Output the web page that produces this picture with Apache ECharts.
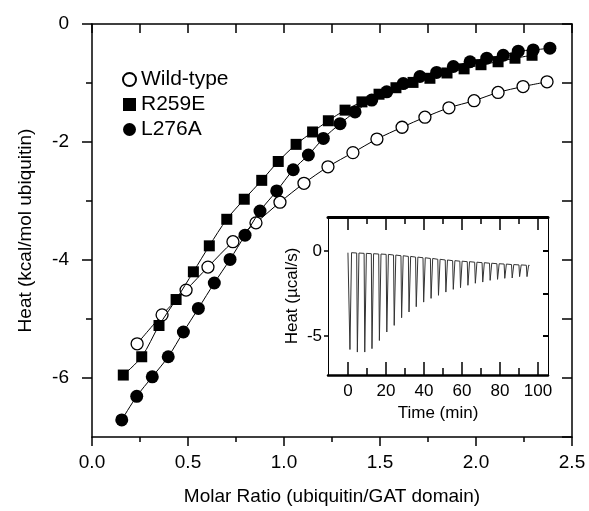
<!DOCTYPE html>
<html><head><meta charset="utf-8">
<script src="https://cdn.jsdelivr.net/npm/echarts@6/dist/echarts.min.js"></script>
<style>html,body{margin:0;padding:0;background:#fff}#c{width:589px;height:511px}</style>
</head><body><div id="c"></div>
<script>
// ---- Main plot data ----
const wtX = [0.235, 0.365, 0.490, 0.604, 0.734, 0.854, 0.979, 1.104, 1.229, 1.359, 1.484, 1.615, 1.734, 1.859, 1.990, 2.115, 2.245, 2.370];
const wtY = [-5.42, -4.93, -4.51, -4.12, -3.69, -3.37, -3.02, -2.70, -2.42, -2.18, -1.95, -1.75, -1.58, -1.42, -1.30, -1.16, -1.06, -0.98];

const r259X = [0.163, 0.259, 0.349, 0.438, 0.528, 0.611, 0.702, 0.793, 0.884, 0.970, 1.063, 1.149, 1.231, 1.318, 1.406, 1.495, 1.583, 1.672, 1.760, 1.849, 1.938, 2.026, 2.115, 2.203, 2.292];
const r259Y = [-5.95, -5.64, -5.11, -4.67, -4.20, -3.76, -3.31, -2.97, -2.65, -2.33, -2.04, -1.83, -1.64, -1.46, -1.32, -1.19, -1.08, -0.99, -0.92, -0.83, -0.76, -0.69, -0.64, -0.58, -0.53];

const l276X = [0.155, 0.233, 0.314, 0.397, 0.476, 0.554, 0.637, 0.719, 0.797, 0.875, 0.962, 1.048, 1.127, 1.205, 1.292, 1.370, 1.457, 1.535, 1.621, 1.708, 1.795, 1.882, 1.969, 2.056, 2.142, 2.220, 2.298, 2.385];
const l276Y = [-6.71, -6.31, -5.98, -5.64, -5.22, -4.82, -4.39, -3.99, -3.58, -3.17, -2.83, -2.47, -2.22, -1.94, -1.69, -1.49, -1.29, -1.15, -1.01, -0.89, -0.82, -0.72, -0.64, -0.58, -0.53, -0.46, -0.44, -0.41];

const seriesNames = ['Wild-type', 'R259E', 'L276A'];
const xTickVals = [0, 0.5, 1.0, 1.5, 2.0, 2.5];
const xTickLabels = ['0.0', '0.5', '1.0', '1.5', '2.0', '2.5'];
const yTickVals = [-6, -4, -2, 0];
const yTickLabels = ['-6', '-4', '-2', '0'];
const yMinorVals = [-5, -3, -1];

// ---- Inset (raw ITC trace) data ----
const injTimes = [0.7, 4.6, 8.5, 12.3, 16.2, 20.1, 24.0, 27.9, 31.8, 35.6, 39.5, 43.4, 47.3, 51.2, 55.1, 58.9, 62.8, 66.7, 70.6, 74.5, 78.4, 82.2, 86.1, 90.0, 93.9];
const injPeaks = [-5.80, -5.95, -5.95, -5.75, -5.27, -4.77, -4.38, -3.93, -3.59, -3.28, -3.01, -2.79, -2.61, -2.42, -2.26, -2.16, -2.02, -1.90, -1.83, -1.73, -1.67, -1.61, -1.59, -1.51, -1.51];
const injBase = [-0.10, -0.12, -0.14, -0.16, -0.18, -0.20, -0.24, -0.28, -0.32, -0.36, -0.40, -0.44, -0.49, -0.53, -0.57, -0.60, -0.63, -0.66, -0.69, -0.72, -0.75, -0.77, -0.80, -0.82, -0.84];
const traceStart = [0, -0.10];
const traceEnd = [95.6, -0.85];
const insetXTickVals = [0, 20, 40, 60, 80, 100];
const insetXMinorVals = [10, 30, 50, 70, 90];
const insetYTickVals = [-5, 0];
const insetYRightVals = [-5, -2.5, 0];

const FONT = "'Liberation Sans', Arial, Helvetica, sans-serif";

const zip = (xs, ys) => xs.map((x, i) => [x, ys[i]]);
const trace = [traceStart];
injTimes.forEach((t, i) => {
  trace.push([t, injBase[i]]);
  trace.push([t + 0.35, injPeaks[i]]);
  trace.push([t + 1.2, injBase[i]]);
});
trace.push(traceEnd);

const blk = (w) => ({ color: '#000', width: w });
const noLabel = { show: false };
const noSplit = { show: false };

const option = {
  animation: false,
  grid: [
    { left: 92, top: 24, width: 480, height: 414 },
    { left: 328, top: 217, width: 220, height: 158 }
  ],
  legend: {
    orient: 'vertical', left: 117, top: 64, itemWidth: 13, itemHeight: 13, itemGap: 4,
    textStyle: { fontSize: 21, fontFamily: FONT, color: '#000' },
    data: [
      { name: seriesNames[0], icon: 'circle' },
      { name: seriesNames[1], icon: 'rect' },
      { name: seriesNames[2], icon: 'circle' }
    ]
  },
  xAxis: [
    { // 0 main bottom
      gridIndex: 0, type: 'value', position: 'bottom', min: 0, max: 2.5, interval: 0.5,
      axisLine: { show: true, onZero: false, lineStyle: blk(1.5) },
      axisTick: { show: true, inside: false, length: 9, lineStyle: blk(1.5) },
      minorTick: { show: true, splitNumber: 2, length: 5, lineStyle: blk(1.5) },
      splitLine: noSplit,
      axisLabel: { show: true, margin: 16, fontSize: 19, fontFamily: FONT, color: '#000',
        formatter: v => { const i = xTickVals.findIndex(t => Math.abs(t - v) < 1e-6); return i >= 0 ? xTickLabels[i] : ''; } },
      name: 'Molar Ratio (ubiquitin/GAT domain)', nameLocation: 'middle', nameGap: 50,
      nameTextStyle: { fontSize: 19, fontFamily: FONT, color: '#000' }
    },
    { // 1 main top
      gridIndex: 0, type: 'value', position: 'top', min: 0, max: 2.5, interval: 0.25,
      axisLine: { show: true, onZero: false, lineStyle: blk(1.5) },
      axisTick: { show: true, inside: true, length: 9, lineStyle: blk(1.5) },
      axisLabel: noLabel, splitLine: noSplit
    },
    { // 2 inset bottom major
      gridIndex: 1, type: 'value', position: 'bottom', min: -10.5, max: 105.3,
      axisLine: { show: true, onZero: false, lineStyle: blk(2.5) },
      axisTick: { show: true, inside: true, length: 13, customValues: insetXTickVals, lineStyle: blk(1.5) },
      axisLabel: { show: true, customValues: insetXTickVals, margin: 8, fontSize: 17, fontFamily: FONT, color: '#000' },
      splitLine: noSplit,
      name: 'Time (min)', nameLocation: 'middle', nameGap: 30,
      nameTextStyle: { fontSize: 17, fontFamily: FONT, color: '#000' }
    },
    { // 3 inset bottom minor
      gridIndex: 1, type: 'value', position: 'bottom', min: -10.5, max: 105.3,
      axisLine: { show: false, onZero: false },
      axisTick: { show: true, inside: true, length: 7, customValues: insetXMinorVals, lineStyle: blk(1.5) },
      axisLabel: noLabel, splitLine: noSplit
    },
    { // 4 inset top major
      gridIndex: 1, type: 'value', position: 'top', min: -10.5, max: 105.3,
      axisLine: { show: true, onZero: false, lineStyle: blk(3) },
      axisTick: { show: true, inside: true, length: 13, customValues: insetXTickVals, lineStyle: blk(1.5) },
      axisLabel: noLabel, splitLine: noSplit
    },
    { // 5 inset top minor
      gridIndex: 1, type: 'value', position: 'top', min: -10.5, max: 105.3,
      axisLine: { show: false, onZero: false },
      axisTick: { show: true, inside: true, length: 7, customValues: insetXMinorVals, lineStyle: blk(1.5) },
      axisLabel: noLabel, splitLine: noSplit
    }
  ],
  yAxis: [
    { // 0 main left major
      gridIndex: 0, type: 'value', position: 'left', min: -7, max: 0,
      axisLine: { show: true, onZero: false, lineStyle: blk(1.5) },
      axisTick: { show: true, inside: false, length: 10, customValues: yTickVals, lineStyle: blk(1.5) },
      axisLabel: { show: true, customValues: yTickVals, margin: 23, fontSize: 19, fontFamily: FONT, color: '#000',
        formatter: v => { const i = yTickVals.indexOf(v); return i >= 0 ? yTickLabels[i] : ''; } },
      splitLine: noSplit,
      name: 'Heat (kcal/mol ubiquitin)', nameLocation: 'middle', nameGap: 57,
      nameTextStyle: { fontSize: 19, fontFamily: FONT, color: '#000' }
    },
    { // 1 main left minor
      gridIndex: 0, type: 'value', position: 'left', min: -7, max: 0,
      axisLine: { show: false, onZero: false },
      axisTick: { show: true, inside: false, length: 6, customValues: yMinorVals, lineStyle: blk(1.5) },
      axisLabel: noLabel, splitLine: noSplit
    },
    { // 2 main right
      gridIndex: 0, type: 'value', position: 'right', min: -7, max: 0, interval: 1,
      axisLine: { show: true, onZero: false, lineStyle: blk(1.5) },
      axisTick: { show: true, inside: true, length: 10, lineStyle: blk(1.5) },
      axisLabel: noLabel, splitLine: noSplit
    },
    { // 3 inset left
      gridIndex: 1, type: 'value', position: 'left', min: -7.3, max: 2,
      axisLine: { show: true, onZero: false, lineStyle: blk(1) },
      axisTick: { show: true, inside: false, length: 4, customValues: insetYTickVals, lineStyle: blk(1.5) },
      axisLabel: { show: true, customValues: insetYTickVals, margin: 6, fontSize: 17, fontFamily: FONT, color: '#000' },
      splitLine: noSplit,
      name: 'Heat (\u00b5cal/s)', nameLocation: 'middle', nameGap: 27,
      nameTextStyle: { fontSize: 17, fontFamily: FONT, color: '#000' }
    },
    { // 4 inset right
      gridIndex: 1, type: 'value', position: 'right', min: -7.3, max: 2,
      axisLine: { show: true, onZero: false, lineStyle: blk(1) },
      axisTick: { show: true, inside: true, length: 5, customValues: insetYRightVals, lineStyle: blk(2) },
      axisLabel: noLabel, splitLine: noSplit
    }
  ],
  series: [
    {
      name: seriesNames[0], type: 'line', xAxisIndex: 0, yAxisIndex: 0, data: zip(wtX, wtY),
      smooth: 0.3, symbol: 'circle', symbolSize: 12, showSymbol: true,
      itemStyle: { color: '#fff', borderColor: '#000', borderWidth: 1.3 },
      lineStyle: { color: '#000', width: 1 }, z: 2
    },
    {
      name: seriesNames[1], type: 'line', xAxisIndex: 0, yAxisIndex: 0, data: zip(r259X, r259Y),
      smooth: 0.3, symbol: 'rect', symbolSize: 11,
      itemStyle: { color: '#000' },
      lineStyle: { color: '#000', width: 1 }, z: 3
    },
    {
      name: seriesNames[2], type: 'line', xAxisIndex: 0, yAxisIndex: 0, data: zip(l276X, l276Y),
      smooth: 0.3, symbol: 'circle', symbolSize: 13,
      itemStyle: { color: '#000' },
      lineStyle: { color: '#000', width: 1 }, z: 4
    },
    {
      name: 'trace', type: 'line', xAxisIndex: 2, yAxisIndex: 3, data: trace,
      showSymbol: false, symbol: 'none', silent: true,
      lineStyle: { color: '#333', width: 1 }, z: 6
    }
  ]
};

echarts.init(document.getElementById('c'), null, { renderer: 'canvas' }).setOption(option);
</script>
</body></html>
